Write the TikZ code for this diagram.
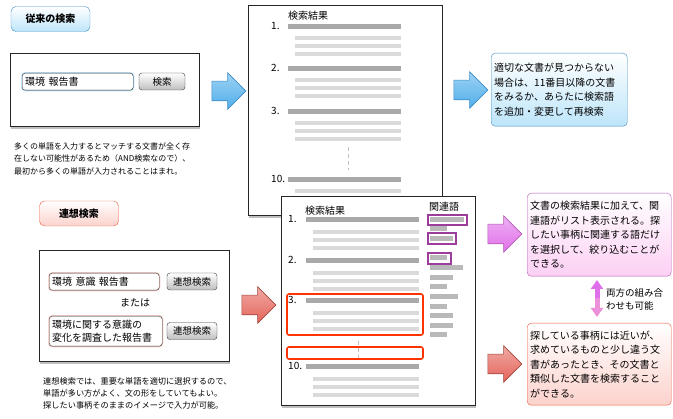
\documentclass[tikz,border=0pt]{standalone}
\usepackage{fontspec}
\setmainfont{Noto Sans CJK JP}
\usetikzlibrary{shapes.arrows,shadows,arrows.meta}
\definecolor{bluebd}{HTML}{3D8CC8}
\definecolor{bluefill}{HTML}{BDE5FA}
\definecolor{arrblue}{HTML}{4FAEEA}
\definecolor{magbd}{HTML}{B45AB4}
\definecolor{magfill}{HTML}{FCD0F4}
\definecolor{arrmag}{HTML}{E070EA}
\definecolor{redbd}{HTML}{F0583C}
\definecolor{redfill}{HTML}{FCD2CC}
\definecolor{arrred}{HTML}{E4645A}
\definecolor{hilite}{HTML}{FF3300}
\definecolor{purp}{HTML}{9C3C9C}
\definecolor{darkbar}{HTML}{A9A9A9}
\definecolor{lightbar}{HTML}{DADADA}
\tikzset{
  title style/.style={rectangle, rounded corners=5pt, draw, minimum width=79pt,
    minimum height=25pt, font=\fontsize{10}{12}\selectfont\bfseries},
  win style/.style={rectangle, draw=black!85, fill=white,
    drop shadow={shadow xshift=1pt, shadow yshift=-3pt, opacity=.5}},
  field style/.style={rectangle, rounded corners=3pt, draw=black!85, fill=white,
    anchor=north west, align=left, inner xsep=3pt, inner ysep=0pt,
    font=\fontsize{10}{13}\selectfont},
  btn style/.style={rectangle, rounded corners=3pt, draw=black!80, top color=white,
    bottom color=black!25, inner sep=0pt, minimum height=17pt,
    font=\fontsize{9.5}{11}\selectfont},
  note style/.style={anchor=north west, align=left, inner sep=0pt},
  info style/.style={rectangle, rounded corners=4pt, anchor=north west, align=left,
    inner xsep=3pt, font=\fontsize{10}{14.5}\selectfont},
  big arr/.style={single arrow, minimum height=34pt, inner xsep=0pt, inner ysep=9.5pt,
    single arrow head extend=8.5pt, line width=.6pt},
  num style/.style={anchor=west, inner sep=0pt, font=\fontsize{10}{12}\selectfont},
  head style/.style={inner sep=0pt, font=\fontsize{10}{12}\selectfont},
  dbl arr/.style={-{Triangle[width=12pt,length=9pt]}, line width=5pt}
}
\begin{document}
\begin{tikzpicture}[x=1pt, y=-1pt]
\useasboundingbox (0,0) rectangle (673,419);
% ---- upper part: normal search
\node[title style, draw=bluebd, top color=white, bottom color=bluefill] (t1) at (50.5,19) {従来の検索};
\node[win style, minimum width=189pt, minimum height=73pt] (w1) at (104.5,89.5) {};
\node[field style, preaction={draw=bluefill, line width=2.2pt}, text width=105pt, minimum height=17pt] (f1) at (22,73) {環境 報告書};
\node[btn style, minimum width=46pt] (b1) at (162,81.5) {検索};
\node[note style, font=\fontsize{8}{12.5}\selectfont] (n1) at (14,142.5) {多くの単語を入力するとマッチする文書が全く存\\在しない可能性があるため（AND検索なので）、\\最初から多くの単語が入力されることはまれ。};
\node[big arr, draw=bluebd, top color=arrblue!55, bottom color=arrblue] (a1) at (224,91) {};
% result page 1
\node[win style, minimum width=194pt, minimum height=210pt] (p1) at (345,110) {};
\node[head style] (h1) at (308,16) {検索結果};
\foreach \n/\y [count=\i] in {1./27, 2./69, 3./112, 10./180} {
  \node[num style] (r1\i) at (271,\y-1) {\n};
  \fill[darkbar] (288,\y-2.5) rectangle (401,\y+2.5);
  \foreach \d in {11,19,27}
    \fill[lightbar] (295,\y+\d-2) rectangle (401,\y+\d+2);
}
\draw[gray!50, dash pattern=on 4pt off 3pt] (348,147) -- (348,170);
\node[big arr, draw=bluebd, top color=arrblue!55, bottom color=arrblue] (a2) at (466,90) {};
\node[info style, draw=bluebd, top color=white, bottom color=bluefill, text width=130pt, minimum height=73pt] (i1) at (491,53) {適切な文書が見つからない\\場合は、11番目以降の文書\\をみるか、あらたに検索語\\を追加・変更して再検索};
% ---- lower part: associative search
\node[title style, draw=redbd, top color=white, bottom color=redfill] (t2) at (79,213.5) {連想検索};
\node[win style, minimum width=190pt, minimum height=111pt] (w2) at (134,305.5) {};
\node[field style, preaction={draw=redfill, line width=2.2pt}, text width=104pt, minimum height=17pt] (f2) at (49,273) {環境 意識 報告書};
\node[btn style, minimum width=50pt] (b2) at (192,281.5) {連想検索};
\node[head style] (or) at (135,303) {または};
\node[field style, preaction={draw=redfill, line width=2.2pt}, text width=107pt, minimum height=30pt] (f3) at (49,316) {環境に関する意識の\\変化を調査した報告書};
\node[btn style, minimum width=50pt] (b3) at (192,331) {連想検索};
\node[note style, font=\fontsize{8.2}{11.8}\selectfont] (n2) at (43,377.5) {連想検索では、重要な単語を適切に選択するので、\\単語が多い方がよく、文の形をしていてもよい。\\探したい事柄そのままのイメージで入力が可能。};
\node[big arr, draw=arrred!70!black, top color=arrred!55, bottom color=arrred] (a3) at (254,305) {};
% result page 2
\node[win style, minimum width=194pt, minimum height=209pt] (p2) at (378,300.5) {};
\node[head style] (h2) at (325,211) {検索結果};
\node[head style] (h3) at (444,207) {関連語};
\foreach \n/\y [count=\i] in {1./220, 2./261, 3./301, 10./367} {
  \node[num style] (r2\i) at (288,\y-1) {\n};
  \fill[darkbar] (306,\y-2.5) rectangle (419,\y+2.5);
  \foreach \d in {12,20,28}
    \fill[lightbar] (313,\y+\d-2) rectangle (419,\y+\d+2);
}
\draw[gray!50, dash pattern=on 4pt off 3pt] (358,341) -- (358,358);
\foreach \y/\e in {220/464, 229/447, 239/453, 258/447, 268/463, 278/453, 287/447, 297/458, 307/447, 316/453, 326/453, 335/447}
  \fill[lightbar!85!black] (430,\y-2.5) rectangle (\e,\y+2.5);
\draw[purp, line width=1.2pt] (428,215) rectangle (467,225);
\draw[purp, line width=1.2pt] (428,233) rectangle (456,244);
\draw[purp, line width=1.2pt] (428,253) rectangle (451,264);
\draw[hilite, line width=1.6pt, rounded corners=2pt] (287,294) rectangle (423,335);
\draw[hilite, line width=1.6pt, rounded corners=2pt] (287,347) rectangle (423,359);
% ---- right notes
\node[big arr, draw=magbd, top color=arrmag!55, bottom color=arrmag] (a4) at (500,234) {};
\node[big arr, draw=arrred!70!black, top color=arrred!55, bottom color=arrred] (a5) at (500,364) {};
\node[info style, draw=magbd, top color=white, bottom color=magfill, text width=138pt, minimum height=83pt] (i2) at (527,193) {文書の検索結果に加えて、関\\連語がリスト表示される。探\\したい事柄に関連する語だけ\\を選択して、絞り込むことが\\できる。};
\node[info style, draw=redbd, top color=white, bottom color=redfill, text width=138pt, minimum height=82pt] (i3) at (527,323) {探している事柄には近いが、\\求めているものと少し違う文\\書があったとき、その文書と\\類似した文書を検索すること\\ができる。};
\coordinate (d0) at (597,298.5);
\coordinate (d1) at (597,280);
\coordinate (d2) at (597,317);
\draw[dbl arr, draw=arrmag, fill=arrmag] (d0) -- (d1);
\draw[dbl arr, draw=arrmag!60!pink, fill=arrmag!60!pink] (d0) -- (d2);
\node[anchor=west, align=left, inner sep=0pt, font=\fontsize{9.5}{12.5}\selectfont] (both) at (606,299.5) {両方の組み合\\わせも可能};
\end{tikzpicture}
\end{document}
